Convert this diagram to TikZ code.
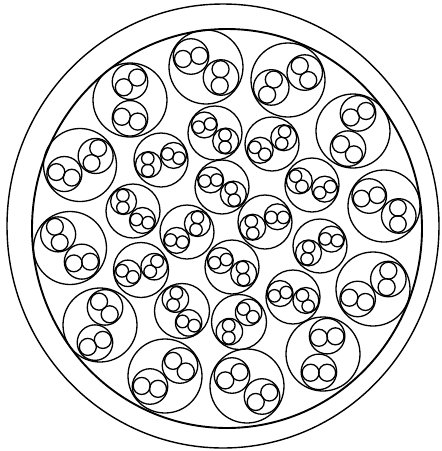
\documentclass[tikz,border=0pt]{standalone}
\newcommand\cuPair[4]{% cx cy rp phi
  \pgfmathsetmacro\cuRS{0.48*#3}%
  \pgfmathsetmacro\cuOX{#1+0.05*#3*cos(#4+90)}%
  \pgfmathsetmacro\cuOY{#2+0.05*#3*sin(#4+90)}%
  \draw (#1,#2) circle[radius=#3pt];
  \draw ({\cuOX+0.97*\cuRS*cos(#4)},{\cuOY+0.97*\cuRS*sin(#4)}) circle[radius=\cuRS pt];
  \draw ({\cuOX-0.97*\cuRS*cos(#4)},{\cuOY-0.97*\cuRS*sin(#4)}) circle[radius=\cuRS pt];
}
\newcommand\cuUnit[6]{% x y R alpha phi1 phi2
  \draw (#1,#2) circle[radius=#3pt];
  \pgfmathsetmacro\cuRP{0.48*#3}%
  \pgfmathsetmacro\cuDD{0.495*#3}%
  \pgfmathsetmacro\cuAx{#1+\cuDD*cos(#4)}%
  \pgfmathsetmacro\cuAy{#2+\cuDD*sin(#4)}%
  \pgfmathsetmacro\cuBx{#1-\cuDD*cos(#4)}%
  \pgfmathsetmacro\cuBy{#2-\cuDD*sin(#4)}%
  \edef\cuDoPairs{\noexpand\cuPair{\cuAx}{\cuAy}{\cuRP}{#5}\noexpand\cuPair{\cuBx}{\cuBy}{\cuRP}{#6}}%
  \cuDoPairs
}
\begin{document}
\begin{tikzpicture}[x=1pt,y=-1pt,line width=1.3pt]
\useasboundingbox (0,0) rectangle (442,451);
\fill[white] (0,0) rectangle (442,451);
\draw[line width=1.4pt] (223,226) ellipse [x radius=216pt, y radius=222pt];
\draw[line width=1.9pt] (227,228.5) ellipse [x radius=195pt, y radius=199.5pt];
% outer ring of units
\cuUnit{206}{67}{37}{-145}{-11}{93}
\cuUnit{288}{80}{37}{-24}{59}{114}
\cuUnit{353}{131}{37}{-74}{-23}{38}
\cuUnit{384}{206}{36}{34}{90}{-12}
\cuUnit{373}{289}{37}{-33}{96}{15}
\cuUnit{323}{354}{37}{-77}{-5}{0}
\cuUnit{247}{386}{37}{35}{-35}{-30}
\cuUnit{165}{376}{37}{-35}{40}{10}
\cuUnit{100}{325}{37}{-74}{50}{-25}
\cuUnit{70}{248}{36.5}{49}{-6}{73}
\cuUnit{80}{165}{36.5}{-30}{114}{20}
\cuUnit{130}{100}{37}{-90}{-36}{17}
% inner units
\cuUnit{215}{133}{27}{37}{90}{-15}
\cuUnit{272}{144}{27}{-28}{104}{35}
\cuUnit{161}{160}{27}{-20}{20}{90}
\cuUnit{222}{187}{27}{32}{75}{-5}
\cuUnit{312}{185}{27}{18}{-30}{58}
\cuUnit{133}{211}{27}{45}{15}{90}
\cuUnit{187}{232}{27}{-39}{97}{10}
\cuUnit{265}{222}{27}{-23}{0}{83}
\cuUnit{320}{246}{27}{-31}{8}{98}
\cuUnit{141}{270}{27.5}{-14}{124}{30}
\cuUnit{232}{267}{27}{29}{85}{-15}
\cuUnit{293}{297}{27}{15}{62}{-16}
\cuUnit{182}{311}{27.5}{61}{20}{105}
\cuUnit{239}{322}{27.5}{-45}{40}{90}
\end{tikzpicture}
\end{document}
